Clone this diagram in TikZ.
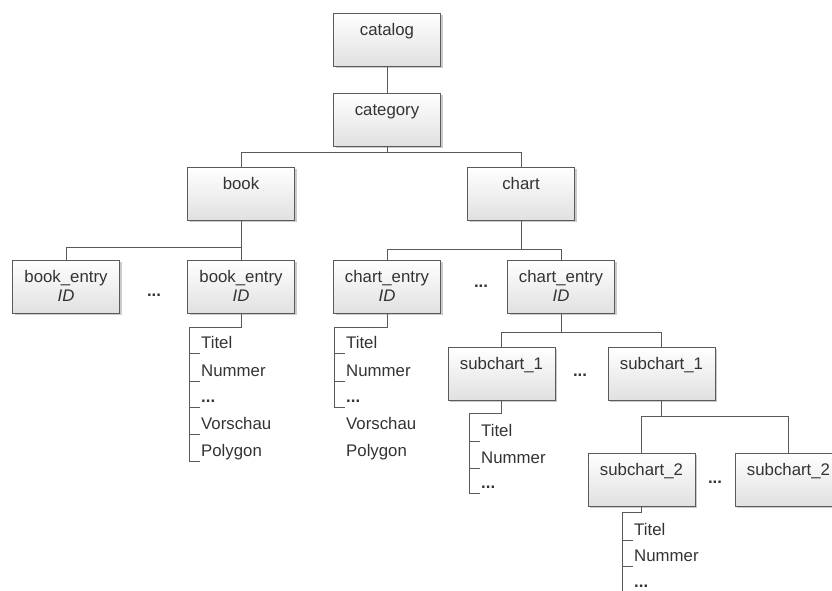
\documentclass[tikz,border=0pt]{standalone}
\usepackage{fontspec}
\setmainfont{Liberation Sans}
\usetikzlibrary{shadows}
\definecolor{edgegray}{HTML}{5A5A5A}
\definecolor{inkgray}{HTML}{333333}
\tikzset{
  basefont/.style={font=\fontsize{16.8}{19.5}\selectfont, text=inkgray},
  entity/.style={basefont, draw=edgegray, line width=0.9pt,
    top color=white, bottom color=black!12,
    drop shadow={shadow xshift=2pt, shadow yshift=-2pt, fill=black!45, opacity=0.45},
    text width=107pt, align=center, inner sep=0pt,
    text height=22pt, text depth=31pt, anchor=north},
  conn/.style={draw=edgegray, line width=0.9pt},
  item/.style={basefont, anchor=base west, inner sep=0pt},
  more/.style={basefont, font=\bfseries\fontsize{16.8}{19.5}\selectfont, anchor=base, inner sep=0pt}
}
\begin{document}
\begin{tikzpicture}[x=1pt, y=-1pt]
  \useasboundingbox (0,0) rectangle (832,590);
  \clip (0,0) rectangle (832,590);

  % boxes
  \node[entity] (catalog)  at (387,13)  {catalog};
  \node[entity] (category) at (387,93)  {category};
  \node[entity] (book)     at (241,167) {book};
  \node[entity] (chart)    at (521,167) {chart};
  \node[entity] (be1)      at (66,260)  {book\_entry\\\textit{ID}};
  \node[entity] (be2)      at (241,260) {book\_entry\\\textit{ID}};
  \node[entity] (ce1)      at (387,260) {chart\_entry\\\textit{ID}};
  \node[entity] (ce2)      at (561,260) {chart\_entry\\\textit{ID}};
  \node[entity] (sa1)      at (501.5,347) {subchart\_1};
  \node[entity] (sb1)      at (661.5,347) {subchart\_1};
  \node[entity] (sa2)      at (641.5,453) {subchart\_2};
  \node[entity] (sb2)      at (788.5,453) {subchart\_2};

  % ellipses between sibling boxes
  \node[more] (d1) at (154,296) {...};
  \node[more] (d2) at (481,287) {...};
  \node[more] (d3) at (580,376) {...};
  \node[more] (d4) at (715,483) {...};

  % tree connectors
  \draw[conn] (catalog.south) -- (category.north);
  \draw[conn] (category.south) -- ++(0,6);
  \draw[conn] (book.north) -- ++(0,-15) -| (chart.north);
  \draw[conn] (book.south) -- (be2.north);
  \draw[conn] (be1.north) -- ++(0,-13) -| (be2.north);
  \draw[conn] (chart.south) -- ++(0,29);
  \draw[conn] (ce1.north) -- ++(0,-11) -| (ce2.north);
  \draw[conn] (ce2.south) -- ++(0,19);
  \draw[conn] (sa1.north) -- ++(0,-15) -| (sb1.north);
  \draw[conn] (sb1.south) -- ++(0,15);
  \draw[conn] (sa2.north) -- ++(0,-37) -| (sb2.north);

  % attribute list of book_entry
  \node[item] (bt1) at (201,348) {Titel};
  \node[item] (bt2) at (201,376) {Nummer};
  \node[item] (bt3) at (201,402) {\textbf{...}};
  \node[item] (bt4) at (201,429) {Vorschau};
  \node[item] (bt5) at (201,456) {Polygon};
  \draw[conn] (be2.south) -- ++(0,14) -| ([shift={(-12,5)}]bt5.base west);
  \foreach \n in {bt1,bt2,bt3,bt4,bt5}
    \draw[conn] ([shift={(-12,5)}]\n.base west) -- ++(11,0);

  % attribute list of chart_entry
  \node[item] (ct1) at (346,348) {Titel};
  \node[item] (ct2) at (346,376) {Nummer};
  \node[item] (ct3) at (346,402) {\textbf{...}};
  \node[item] (ct4) at (346,429) {Vorschau};
  \node[item] (ct5) at (346,456) {Polygon};
  \draw[conn] (ce1.south) -- ++(0,14) -| ([shift={(-12,5)}]ct3.base west);
  \foreach \n in {ct1,ct2,ct3}
    \draw[conn] ([shift={(-12,5)}]\n.base west) -- ++(11,0);

  % attribute list of subchart_1
  \node[item] (st1) at (481,436) {Titel};
  \node[item] (st2) at (481,463) {Nummer};
  \node[item] (st3) at (481,488) {\textbf{...}};
  \draw[conn] (sa1.south) -- ++(0,13) -| ([shift={(-12,5)}]st3.base west);
  \foreach \n in {st1,st2,st3}
    \draw[conn] ([shift={(-12,5)}]\n.base west) -- ++(11,0);

  % attribute list of subchart_2
  \node[item] (tt1) at (634,535) {Titel};
  \node[item] (tt2) at (634,561) {Nummer};
  \node[item] (tt3) at (634,587) {\textbf{...}};
  \draw[conn] (sa2.south) -- ++(0,6) -| ([shift={(-12,5)}]tt3.base west);
  \foreach \n in {tt1,tt2}
    \draw[conn] ([shift={(-12,5)}]\n.base west) -- ++(11,0);
\end{tikzpicture}
\end{document}
